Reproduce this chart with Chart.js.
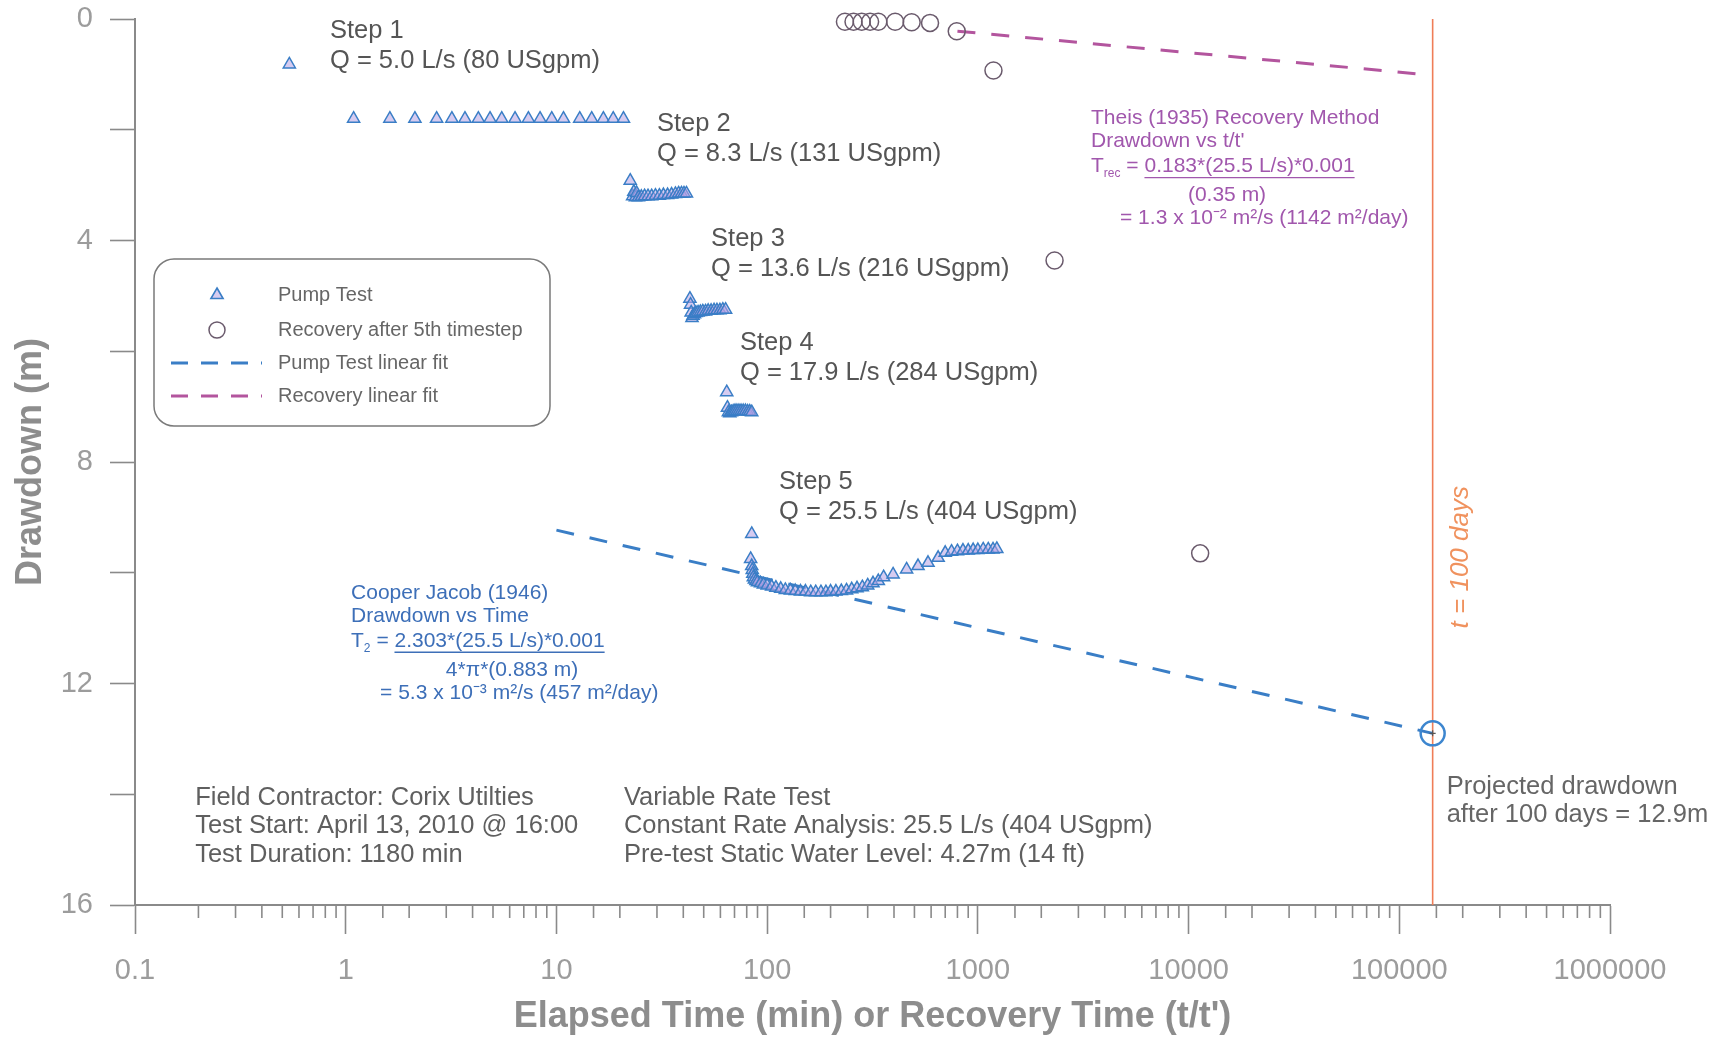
<!DOCTYPE html>
<html>
<head>
<meta charset="utf-8">
<title>Step test drawdown</title>
<script src="https://cdn.jsdelivr.net/npm/chart.js@4.4.0/dist/chart.umd.min.js"></script>
<style>
  html, body { margin: 0; padding: 0; background: #fff; }
  #wrap { width: 1726px; height: 1039px; }
</style>
</head>
<body>
<div id="wrap"><canvas id="drawdownChart" width="1726" height="1039"></canvas></div>
<script>
// Pump test, step by step: elapsed time (min) and drawdown (m)
const step1Time = [0.54, 1.09, 1.62, 2.13, 2.70, 3.19, 3.68, 4.26, 4.84, 5.5, 6.36, 7.36, 8.36, 9.5, 10.8, 12.9, 14.7, 16.7, 18.6, 20.8];
const step1Drawdown = [0.82, 1.8, 1.8, 1.8, 1.8, 1.8, 1.8, 1.8, 1.8, 1.8, 1.8, 1.8, 1.8, 1.8, 1.8, 1.8, 1.8, 1.8, 1.8, 1.8];

const step2Time = [22.4, 23.0, 23.3, 23.7, 24.0, 24.5, 25.3, 26.2, 27.2, 28.3, 29.5, 30.8, 32.2, 33.7, 35.2, 36.7, 38.0, 39.2, 40.3, 41.4];
const step2Drawdown = [2.92, 3.20, 3.12, 3.22, 3.14, 3.22, 3.21, 3.20, 3.20, 3.20, 3.19, 3.19, 3.18, 3.18, 3.17, 3.16, 3.15, 3.15, 3.15, 3.15];

const step3Time = [43.0, 43.3, 43.6, 44.0, 44.5, 45.2, 46.0, 47.0, 48.2, 49.5, 51.0, 52.5, 54.2, 56.0, 57.8, 59.7, 61.6, 63.5];
const step3Drawdown = [5.05, 5.16, 5.30, 5.40, 5.36, 5.33, 5.31, 5.30, 5.29, 5.28, 5.28, 5.27, 5.27, 5.26, 5.26, 5.26, 5.25, 5.25];

const step4Time = [64.3, 64.8, 65.5, 66.5, 67.7, 69.0, 70.4, 71.9, 73.5, 75.2, 77.0, 78.9, 80.8, 82.7, 84.5];
const step4Drawdown = [6.74, 7.02, 7.10, 7.12, 7.10, 7.09, 7.08, 7.08, 7.08, 7.08, 7.08, 7.08, 7.09, 7.09, 7.10];

const step5Time = [84.5, 83.5, 84.5, 85, 85.5, 86, 87, 88.5, 90, 93, 96, 100, 105, 110, 116, 122, 129, 136, 144, 152, 161, 170,
    180, 190, 200, 212, 225, 238, 252, 267, 283, 300, 318, 337, 357, 396, 459, 520, 580, 648, 700, 750,
    800, 850, 900, 950, 1000, 1060, 1120, 1180, 1230];
const step5Drawdown = [9.30, 9.75, 9.88, 9.95, 10.02, 10.08, 10.12, 10.15, 10.17, 10.19, 10.21, 10.23, 10.25, 10.27, 10.29, 10.31, 10.32, 10.33, 10.34, 10.34, 10.35, 10.35,
    10.35, 10.35, 10.34, 10.34, 10.33, 10.32, 10.30, 10.28, 10.26, 10.23, 10.19, 10.15, 10.08, 10.03, 9.94, 9.88, 9.82, 9.73, 9.64, 9.62,
    9.61, 9.60, 9.60, 9.59, 9.59, 9.58, 9.58, 9.58, 9.57];

// Recovery after the 5th step: t/t' and residual drawdown (m)
const recoveryRatio = [234, 257, 281, 308, 337, 405, 485, 593, 794, 1186, 2312, 11350];
const recoveryDrawdown = [0.05, 0.05, 0.05, 0.05, 0.05, 0.05, 0.06, 0.07, 0.22, 0.93, 4.36, 9.65];

// Cooper-Jacob fit on step 5, projected to 100 days
const pumpFitTime = [10, 144000];
const pumpFitDrawdown = [9.23, 12.9];

// Theis recovery fit
const recoveryFitRatio = [800, 130000];
const recoveryFitDrawdown = [0.22, 1.0];

// t = 100 days (min) and the projected drawdown there
const hundredDays = 144000;
const projectedDrawdown = 12.9;

const timeTicks = [0.1, 1, 10, 100, 1000, 10000, 100000, 1000000];
const drawdownTicks = [0, 4, 8, 12, 16];

const FONT = '"Liberation Sans", Arial, Helvetica, sans-serif';
const AXIS = '#8a8a8a';
const BLUE = '#3a7ec6';
const PURPLE = '#b3559e';
const TRI_FILL = 'rgba(180,160,228,0.55)';

const pairs = (xs, ys) => xs.map((v, i) => ({ x: v, y: ys[i] }));
const isDecade = v => timeTicks.some(t => Math.abs(t - v) / t < 1e-6);

const pumpPoints = [
    pairs(step1Time, step1Drawdown),
    pairs(step2Time, step2Drawdown),
    pairs(step3Time, step3Drawdown),
    pairs(step4Time, step4Drawdown),
    pairs(step5Time, step5Drawdown)
].flat();

function drawText(ctx, str, x, y, size, color, align, style) {
    ctx.font = (style || '') + ' ' + size + 'px ' + FONT;
    ctx.fillStyle = color;
    ctx.textAlign = align || 'left';
    ctx.textBaseline = 'middle';
    ctx.fillText(str, x, y);
    return ctx.measureText(str).width;
}

function underline(ctx, x, y, w, color) {
    ctx.strokeStyle = color;
    ctx.lineWidth = 1.3;
    ctx.beginPath();
    ctx.moveTo(x, y);
    ctx.lineTo(x + w, y);
    ctx.stroke();
}

// Formula block: title lines, T = numerator / denominator, result
function drawFormula(ctx, x0, y0, color, cfg) {
    drawText(ctx, cfg.title[0], x0, y0, 21, color);
    drawText(ctx, cfg.title[1], x0, y0 + 23, 21, color);
    let x = x0;
    const yl = y0 + 48;
    x += drawText(ctx, 'T', x, yl, 21, color);
    x += drawText(ctx, cfg.sub, x, yl + 7, 12, color);
    x += drawText(ctx, ' = ', x, yl, 21, color);
    const w = drawText(ctx, cfg.numerator, x, yl, 21, color);
    underline(ctx, x, yl + 11, w, color);
    drawText(ctx, cfg.denominator, x0 + cfg.denomCenter, y0 + 77, 21, color, 'center');
    drawText(ctx, cfg.result, x0 + 29, y0 + 100, 21, color);
}

const annotations = {
    id: 'annotations',
    afterDatasetsDraw(chart) {
        const { ctx, chartArea, scales: { x, y } } = chart;
        ctx.save();

        // step labels
        const steps = [
            [0.842, 0.22, 'Step 1', 'Q = 5.0 L/s (80 USgpm)'],
            [30.0, 1.89, 'Step 2', 'Q = 8.3 L/s (131 USgpm)'],
            [54.2, 3.98, 'Step 3', 'Q = 13.6 L/s (216 USgpm)'],
            [74.3, 5.85, 'Step 4', 'Q = 17.9 L/s (284 USgpm)'],
            [113.9, 8.36, 'Step 5', 'Q = 25.5 L/s (404 USgpm)']
        ];
        steps.forEach(s => {
            const px = x.getPixelForValue(s[0]);
            const py = y.getPixelForValue(s[1]);
            drawText(ctx, s[2], px, py, 25.5, '#555');
            drawText(ctx, s[3], px, py + 30, 25.5, '#555');
        });

        // Theis recovery block
        drawFormula(ctx, x.getPixelForValue(3444), y.getPixelForValue(1.80), '#a157ad', {
            title: ['Theis (1935) Recovery Method', "Drawdown vs t/t'"],
            sub: 'rec',
            numerator: '0.183*(25.5 L/s)*0.001',
            denominator: '(0.35 m)',
            denomCenter: 136,
            result: '= 1.3 x 10\u207B\u00B2 m\u00B2/s (1142 m\u00B2/day)'
        });

        // Cooper-Jacob block
        drawFormula(ctx, x.getPixelForValue(1.06), y.getPixelForValue(10.37), '#3d6fb8', {
            title: ['Cooper Jacob (1946)', 'Drawdown vs Time'],
            sub: '2',
            numerator: '2.303*(25.5 L/s)*0.001',
            denominator: '4*\u03C0*(0.883 m)',
            denomCenter: 161,
            result: '= 5.3 x 10\u207B\u00B3 m\u00B2/s (457 m\u00B2/day)'
        });

        // test information
        const infoY = y.getPixelForValue(14.06);
        const left1 = x.getPixelForValue(0.193);
        const left2 = x.getPixelForValue(20.9);
        ['Field Contractor: Corix Utilties', 'Test Start: April 13, 2010 @ 16:00', 'Test Duration: 1180 min']
            .forEach((s, i) => drawText(ctx, s, left1, infoY + i * 28.5, 25.5, '#5f5f5f'));
        ['Variable Rate Test', 'Constant Rate Analysis: 25.5 L/s (404 USgpm)', 'Pre-test Static Water Level: 4.27m (14 ft)']
            .forEach((s, i) => drawText(ctx, s, left2, infoY + i * 28.5, 25.5, '#5f5f5f'));

        // 100 days labels
        const px100 = x.getPixelForValue(hundredDays);
        const pyProj = y.getPixelForValue(13.86);
        drawText(ctx, 'Projected drawdown', px100 + 14, pyProj, 25.5, '#666');
        drawText(ctx, 'after 100 days = 12.9m', px100 + 14, pyProj + 28, 25.5, '#666');

        ctx.save();
        ctx.translate(px100 + 28, y.getPixelForValue(9.72));
        ctx.rotate(-Math.PI / 2);
        drawText(ctx, 't = 100 days', 0, 0, 26, '#f0925e', 'center', 'italic');
        ctx.restore();

        // legend box
        const bx = chartArea.left + 19, by = chartArea.top + 240, bw = 396, bh = 167;
        ctx.strokeStyle = '#7a7a7a';
        ctx.lineWidth = 1.5;
        ctx.beginPath();
        ctx.roundRect(bx, by, bw, bh, 20);
        ctx.stroke();

        const mx = bx + 63, tx = bx + 124;
        // triangle
        let yy = by + 36;
        const r = 7;
        ctx.beginPath();
        ctx.moveTo(mx, yy - r);
        ctx.lineTo(mx + 0.866 * r, yy + 0.5 * r);
        ctx.lineTo(mx - 0.866 * r, yy + 0.5 * r);
        ctx.closePath();
        ctx.fillStyle = TRI_FILL;
        ctx.fill();
        ctx.strokeStyle = BLUE;
        ctx.lineWidth = 1.6;
        ctx.stroke();
        drawText(ctx, 'Pump Test', tx, yy, 20, '#666');
        // circle
        yy = by + 71;
        ctx.beginPath();
        ctx.arc(mx, yy, 8, 0, Math.PI * 2);
        ctx.strokeStyle = '#6a5a6c';
        ctx.lineWidth = 1.5;
        ctx.stroke();
        drawText(ctx, 'Recovery after 5th timestep', tx, yy, 20, '#666');
        // dashed lines
        [[by + 104, BLUE, 'Pump Test linear fit'], [by + 137, PURPLE, 'Recovery linear fit']].forEach(item => {
            ctx.save();
            ctx.setLineDash([17, 13]);
            ctx.strokeStyle = item[1];
            ctx.lineWidth = 3;
            ctx.beginPath();
            ctx.moveTo(bx + 17, item[0]);
            ctx.lineTo(bx + 108, item[0]);
            ctx.stroke();
            ctx.restore();
            drawText(ctx, item[2], tx, item[0], 20, '#666');
        });

        ctx.restore();
    }
};

// short minor ticks under the log axis (decade ticks come from Chart.js)
const minorTicks = {
    id: 'minorTicks',
    afterDraw(chart) {
        const xs = chart.scales.x;
        const ctx = chart.ctx;
        ctx.save();
        ctx.strokeStyle = AXIS;
        ctx.lineWidth = 1.6;
        xs.ticks.forEach(t => {
            if (isDecade(t.value)) return;
            const px = xs.getPixelForValue(t.value);
            ctx.beginPath();
            ctx.moveTo(px, xs.top);
            ctx.lineTo(px, xs.top + 13);
            ctx.stroke();
        });
        ctx.restore();
    }
};

const ctx = document.getElementById('drawdownChart');

new Chart(ctx, {
    type: 'scatter',
    data: {
        datasets: [
            {
                label: 'Pump Test',
                data: pumpPoints,
                pointStyle: 'triangle',
                pointRadius: 7,
                borderColor: BLUE,
                borderWidth: 1.5,
                backgroundColor: TRI_FILL,
                clip: false,
                order: 1
            },
            {
                label: 'Recovery after 5th timestep',
                data: pairs(recoveryRatio, recoveryDrawdown),
                pointStyle: 'circle',
                pointRadius: 8.5,
                borderColor: '#6a5a6c',
                borderWidth: 1.5,
                backgroundColor: 'rgba(255,255,255,0)',
                clip: false,
                order: 1
            },
            {
                label: 'Pump Test linear fit',
                data: pairs(pumpFitTime, pumpFitDrawdown),
                showLine: true,
                borderColor: BLUE,
                borderWidth: 3,
                borderDash: [18, 16],
                pointRadius: 0,
                order: 3
            },
            {
                label: 'Recovery linear fit',
                data: pairs(recoveryFitRatio, recoveryFitDrawdown),
                showLine: true,
                borderColor: PURPLE,
                borderWidth: 3,
                borderDash: [18, 16],
                pointRadius: 0,
                order: 3
            },
            {
                label: 't = 100 days',
                data: [{ x: hundredDays, y: 0 }, { x: hundredDays, y: 16 }],
                showLine: true,
                borderColor: '#ef7d57',
                borderWidth: 1.6,
                pointRadius: 0,
                order: 4
            },
            {
                label: 'Projected drawdown',
                data: [{ x: hundredDays, y: projectedDrawdown }],
                pointStyle: 'circle',
                pointRadius: 12,
                borderColor: '#3d86cf',
                borderWidth: 2.5,
                backgroundColor: 'rgba(255,255,255,0)',
                order: 0
            },
            {
                label: 'Projected point',
                data: [{ x: hundredDays, y: projectedDrawdown }],
                pointStyle: 'cross',
                pointRadius: 3,
                borderColor: '#555',
                borderWidth: 1.2,
                order: 0
            }
        ]
    },
    options: {
        responsive: false,
        animation: false,
        layout: { padding: { top: 19, right: 116, bottom: 0, left: 0 } },
        plugins: {
            legend: { display: false },
            tooltip: { enabled: false }
        },
        scales: {
            x: {
                type: 'logarithmic',
                position: 'bottom',
                min: 0.1,
                max: 1000000,
                afterFit: s => { s.height = 134; s.paddingLeft = 0; s.paddingRight = 0; },
                border: { display: true, color: AXIS, width: 2 },
                grid: {
                    display: true,
                    drawOnChartArea: false,
                    drawTicks: true,
                    tickLength: 29,
                    tickWidth: 1.6,
                    tickColor: c => (c.tick && isDecade(c.tick.value)) ? AXIS : 'rgba(0,0,0,0)'
                },
                ticks: {
                    autoSkip: false,
                    maxRotation: 0,
                    padding: 20,
                    color: '#9c9c9c',
                    font: { family: FONT, size: 29 },
                    callback: v => isDecade(v) ? String(timeTicks.find(t => Math.abs(t - v) / t < 1e-6)) : ''
                },
                title: {
                    display: true,
                    text: "Elapsed Time (min) or Recovery Time (t/t')",
                    color: '#8d8d8d',
                    font: { family: FONT, size: 36, weight: 'bold' },
                    padding: { top: 0, bottom: 0 }
                }
            },
            y: {
                type: 'linear',
                reverse: true,
                min: 0,
                max: 16,
                afterFit: s => { s.width = 135; s.paddingTop = 0; s.paddingBottom = 0; },
                border: { display: true, color: AXIS, width: 2 },
                grid: {
                    display: true,
                    drawOnChartArea: false,
                    drawTicks: true,
                    tickLength: 25,
                    tickWidth: 1.6,
                    tickColor: AXIS
                },
                ticks: {
                    stepSize: 2,
                    padding: 17,
                    color: '#9c9c9c',
                    font: { family: FONT, size: 29 },
                    callback: v => drawdownTicks.includes(v) ? String(v) : ''
                },
                title: {
                    display: true,
                    text: 'Drawdown (m)',
                    color: '#8d8d8d',
                    font: { family: FONT, size: 36, weight: 'bold' },
                    padding: { top: 9, bottom: 0 }
                }
            }
        }
    },
    plugins: [annotations, minorTicks]
});
</script>
</body>
</html>
